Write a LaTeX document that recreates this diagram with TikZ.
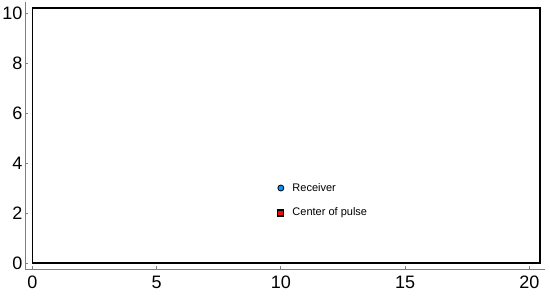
\documentclass[tikz,border=0pt]{standalone}
\usepackage{fontspec}
\setmainfont{Liberation Sans}
\definecolor{rcvblue}{RGB}{10,145,250}
\definecolor{pulsered}{RGB}{240,10,10}
\tikzset{
  axisline/.style={gray,line width=0.8pt},
  ticklab/.style={font=\fontsize{18}{20}\selectfont,inner sep=0pt},
  legendlab/.style={font=\fontsize{11}{13}\selectfont,anchor=west,inner sep=0pt},
  rcvmark/.style={circle,draw=black,fill=rcvblue,line width=0.8pt,minimum size=6pt,inner sep=0pt},
  pulsemark/.style={rectangle,draw=black,fill=pulsered,line width=1.3pt,minimum size=6pt,inner sep=0pt}
}
\begin{document}
\begin{tikzpicture}[x=24.85pt,y=25pt]
\useasboundingbox (-1.30,-1.28) rectangle (20.83,10.52);

% Offset axes
\draw[axisline] (-0.29,10.45) -- (-0.29,-0.25) -- (20.63,-0.25);
\foreach \yy in {0,2,...,10} {
  \draw[axisline] (-0.29,\yy) -- ++(3pt,0);
  \node[ticklab,anchor=east] (ylab\yy) at (-0.39,\yy) {\yy};
}
\foreach \xx in {0,5,...,20} {
  \draw[axisline] (\xx,-0.25) -- ++(0,3pt);
  \node[ticklab,anchor=north] (xlab\xx) at (\xx,-0.52) {\xx};
}

% Domain box
\draw[black,line width=1.2pt] (0,0) rectangle (20.43,10.2);

% Legend
\node[rcvmark] (rcv) at (10,3) {};
\node[pulsemark] (pulse) at (10,2) {};
\node[legendlab] (rcvlab) at (10.46,3) {Receiver};
\node[legendlab] (pulselab) at (10.46,2) {Center of pulse};

\end{tikzpicture}
\end{document}
